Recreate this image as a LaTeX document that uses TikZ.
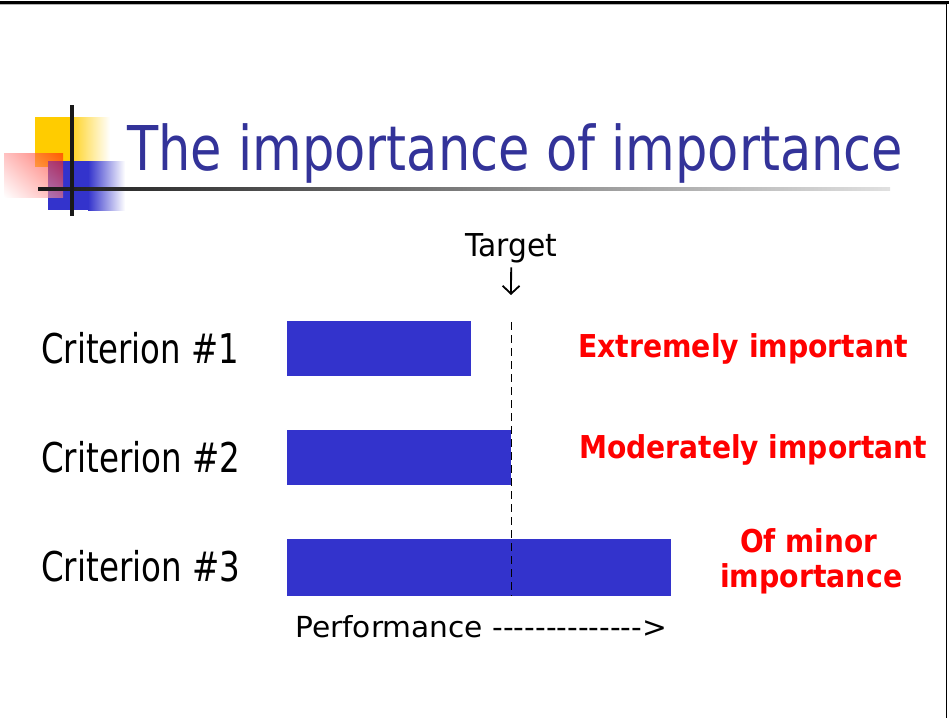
\documentclass[tikz,border=0pt]{standalone}
\usepackage{fontspec}
\setmainfont{DejaVu Sans}
\usetikzlibrary{arrows.meta,shadings}
\definecolor{barblue}{RGB}{51,51,204}
\definecolor{titleblue}{RGB}{51,51,153}
\definecolor{logoyellow}{RGB}{255,204,0}
\newcommand\fitw[2]{\resizebox{#1pt}{\height}{#2}}
\begin{document}
\begin{tikzpicture}[x=1pt,y=-1pt,
  txt/.style={inner sep=0pt, anchor=base west},
  lbl/.style={txt, font=\fontsize{41}{48}\selectfont},
  imp/.style={txt, text=red, font=\fontsize{31.5}{38}\selectfont\bfseries},
]
\useasboundingbox (0,0) rectangle (949,718);
\fill[white] (0,0) rectangle (949,718);
% frame
\draw[line width=2.5pt] (0,2.5) -- (949,2.5);
\draw[black!30, line width=0.8pt] (0,4.6) -- (946,4.6);
\draw[line width=1pt] (946.5,2) -- (946.5,718);
% logo
\fill[logoyellow] (35,117) rectangle (72,167);
\shade[left color=logoyellow!85!white, right color=white] (72,117) rectangle (110,167);
\fill[barblue] (48,161) rectangle (88,210);
\shade[left color=barblue, right color=white] (88,161) rectangle (125,210);
\begin{scope}[opacity=0.6]
  \shade[upper right=red!85!orange, upper left=red!40, lower left=white, lower right=red!50] (4,153) rectangle (63,197);
\end{scope}
\shade[left color=black!90, middle color=black!60, right color=black!12] (38,187.5) rectangle (890,190.5);
\fill[black!90] (70,105) rectangle (74,216);
% title
\node[txt, text=titleblue, font=\fontsize{61.7}{70}\selectfont] (title) at (127,170) {\fitw{776}{The importance of importance}};
% target
\node[txt, font=\fontsize{31.5}{36}\selectfont] (target) at (465,256) {\fitw{92}{Target}};
\coordinate (arrowtip) at (511,295);
\draw[line width=1.8pt, shorten <=4.6pt, -{Straight Barb[length=8pt,width=17pt]}] (target.south) -- (arrowtip);
% bars
\fill[barblue] (287,321) rectangle (471,376);
\fill[barblue] (287,430) rectangle (511,485);
\fill[barblue] (287,539) rectangle (671,596);
\coordinate (dtop) at (511,322);
\coordinate (dbot) at (511,596);
\draw[dash pattern=on 8pt off 5pt, line width=1pt] (dtop) -- (dbot);
% criteria
\node[lbl] (c1) at (41,363) {\fitw{198}{Criterion \#1}};
\node[lbl] (c2) at (41,472) {\fitw{199}{Criterion \#2}};
\node[lbl] (c3) at (41,581) {\fitw{199}{Criterion \#3}};
% importance labels
\node[imp] (i1) at (578,357) {\fitw{330}{Extremely important}};
\node[imp] (i2) at (579,458) {\fitw{348}{Moderately important}};
\node[imp] (i3a) at (740,552) {\fitw{137}{Of minor}};
\node[imp] (i3b) at (720,587) {\fitw{182}{importance}};
% performance
\node[txt, font=\fontsize{29}{34}\selectfont] (perf) at (295,637) {\fitw{372}{Performance -{}-{}-{}-{}-{}-{}-{}-{}-{}-{}-{}-{}-{}-{}>}};
\end{tikzpicture}
\end{document}
